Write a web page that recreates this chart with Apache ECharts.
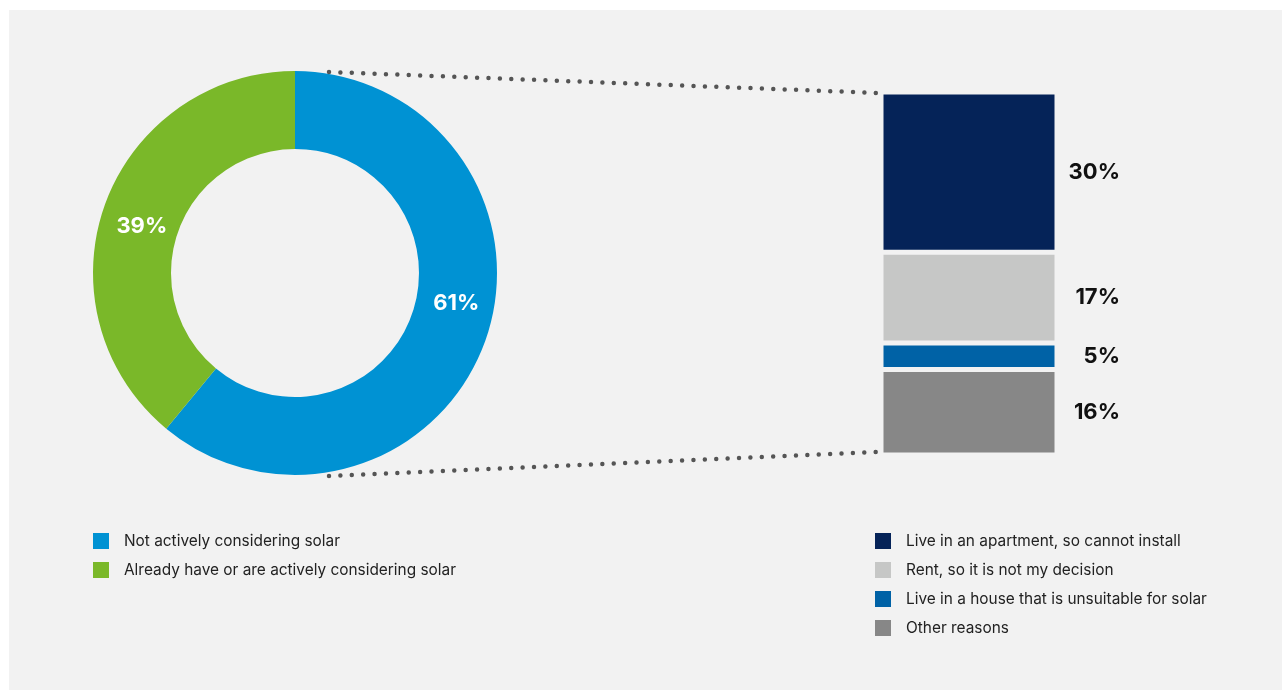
<!DOCTYPE html>
<html>
<head>
<meta charset="utf-8">
<script src="https://cdn.jsdelivr.net/npm/echarts@6/dist/echarts.min.js"></script>
<style>
html,body{margin:0;padding:0;background:#ffffff;}
#chart{width:1282px;height:690px;}
</style>
</head>
<body>
<div id="chart"></div>
<script>
// Donut data
const pieNames = ['Not actively considering solar', 'Already have or are actively considering solar'];
const pieValues = [61, 39];
const pieColors = ['#0092d3', '#7ab829'];

// Stacked bar breakdown
const barNames = ['Live in an apartment, so cannot install', 'Rent, so it is not my decision', 'Live in a house that is unsuitable for solar', 'Other reasons'];
const barValues = [30, 17, 5, 16];
const barColors = ['#052358', '#c6c7c6', '#0062a6', '#878787'];

const FONT = 'Inter, "Open Sans", sans-serif';
const LABEL_FONT = 'Inter, "Open Sans", sans-serif';
// small nudges for the donut's percent labels (style only)
const pieLabelNudge = [[5, -26], [3, 10]];

const chart = echarts.init(document.getElementById('chart'), null, {renderer: 'canvas'});

const barSeries = barNames.map((n, i) => ({
  name: n,
  type: 'bar',
  stack: 'total',
  xAxisIndex: 0,
  yAxisIndex: 0,
  barWidth: '100%',
  data: [barValues[i]],
  itemStyle: {color: barColors[i], borderColor: '#f2f2f2', borderWidth: 2.5},
  label: {
    show: true,
    position: 'insideRight',
    offset: [68, 0],
    align: 'right',
    formatter: '{c}%',
    color: '#111111',
    fontFamily: LABEL_FONT,
    fontWeight: 'bold',
    fontSize: 22
  },
  emphasis: {disabled: true}
}));

const legendCommon = {
  orient: 'vertical',
  top: 533,
  padding: 0,
  itemWidth: 16, itemHeight: 16, itemGap: 13,
  icon: 'rect',
  selectedMode: false,
  itemStyle: {borderWidth: 0},
  textStyle: {fontFamily: FONT, fontSize: 15.4, color: '#222222', padding: [0, 0, 0, 10], lineHeight: 16}
};

const option = {
  backgroundColor: '#ffffff',
  animation: false,
  graphic: [
    {type: 'rect', z: -10, shape: {x: 9, y: 10, width: 1273, height: 680}, style: {fill: '#f2f2f2'}},
    {type: 'line', z: 10, shape: {x1: 329, y1: 72, x2: 878, y2: 93},
     style: {stroke: '#555555', lineWidth: 4.5, lineCap: 'round', lineDash: [0, 11.4]}},
    {type: 'line', z: 10, shape: {x1: 329, y1: 476, x2: 878, y2: 452},
     style: {stroke: '#555555', lineWidth: 4.5, lineCap: 'round', lineDash: [0, 11.4]}}
  ],
  grid: {left: 881, top: 92, width: 176, height: 363},
  xAxis: {type: 'category', data: ['reasons'], show: false},
  yAxis: {type: 'value', min: 0, max: 68, inverse: true, show: false},
  legend: [
    Object.assign({data: pieNames, left: 93}, legendCommon),
    Object.assign({data: barNames, left: 875}, legendCommon)
  ],
  series: [
    {
      type: 'pie',
      center: [295, 273],
      radius: [124, 202],
      startAngle: 90,
      clockwise: true,
      data: pieNames.map((n, i) => ({name: n, value: pieValues[i], itemStyle: {color: pieColors[i]}})),
      label: {
        show: true,
        position: 'inside',
        formatter: '{c}%',
        color: '#ffffff',
        fontFamily: LABEL_FONT,
        fontWeight: 'bold',
        fontSize: 22
      },
      labelLayout: function (p) {
        const n = pieLabelNudge[p.dataIndex] || [0, 0];
        return {dx: n[0], dy: n[1]};
      },
      labelLine: {show: false},
      emphasis: {disabled: true}
    }
  ].concat(barSeries)
};

chart.setOption(option);
</script>
</body>
</html>
